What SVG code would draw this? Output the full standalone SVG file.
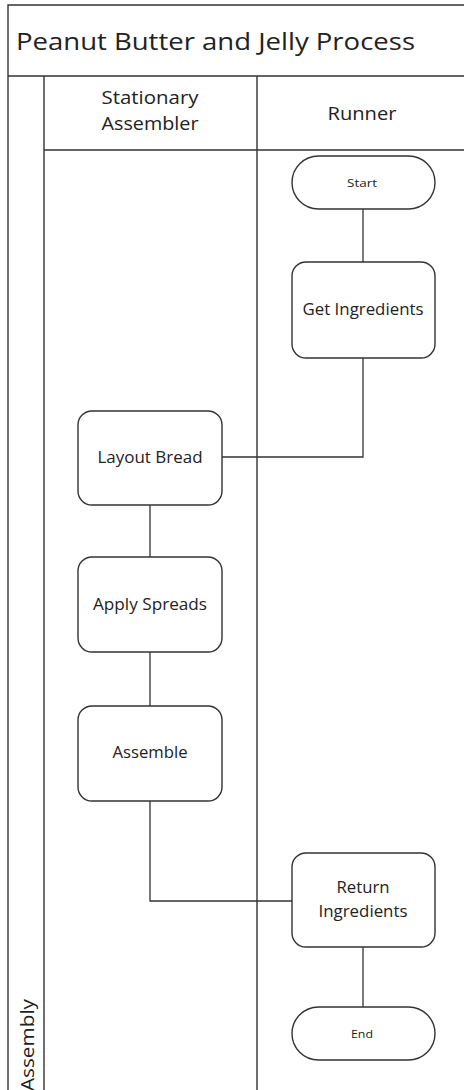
<svg xmlns="http://www.w3.org/2000/svg" width="464" height="1090" viewBox="0 0 464 1090">
<style>
.frame{fill:none;stroke:#333;stroke-width:1.4}
.node{fill:#fff;stroke:#333;stroke-width:1.4}
.conn{fill:none;stroke:#333;stroke-width:1.3}
text{font-family:"Open Sans","Noto Sans","Liberation Sans",sans-serif;fill:#222;text-anchor:middle}
.t{font-size:16px}
.s{font-size:11px}
.h{font-size:18.5px}
</style>
<rect width="464" height="1090" fill="#fff"/>
<g id="pool">
<path class="frame" d="M8,1090 V5 H466 M8,76 H466 M44,76 V1090 M257,76 V1090 M44,150 H466"/>
<text x="16" y="50" style="font-size:24px;text-anchor:start" textLength="399" lengthAdjust="spacingAndGlyphs">Peanut Butter and Jelly Process</text>
<text x="34" y="1091" style="font-size:18px;text-anchor:start" textLength="92" lengthAdjust="spacingAndGlyphs" transform="rotate(-90 34 1091)">Assembly</text>
</g>
<g id="lane-stationary">
<text x="150" y="104" class="h" textLength="97" lengthAdjust="spacingAndGlyphs">Stationary</text>
<text x="150" y="130" class="h" textLength="97" lengthAdjust="spacingAndGlyphs">Assembler</text>
</g>
<g id="lane-runner">
<text x="362" y="120" class="h" textLength="69" lengthAdjust="spacingAndGlyphs">Runner</text>
</g>
<g id="connectors">
<path class="conn" d="M363,209 V262"/>
<path class="conn" d="M363,358 V457 H222"/>
<path class="conn" d="M150,505 V557"/>
<path class="conn" d="M150,652 V706"/>
<path class="conn" d="M150,801 V901 H292"/>
<path class="conn" d="M363,947 V1007"/>
</g>
<g id="start">
<rect class="node" x="292" y="156" width="143" height="53" rx="26.5"/>
<text x="362" y="187" class="s" textLength="30" lengthAdjust="spacingAndGlyphs">Start</text>
</g>
<g id="get-ingredients">
<rect class="node" x="292" y="262" width="143" height="96" rx="14"/>
<text x="363" y="315" class="t" textLength="121" lengthAdjust="spacingAndGlyphs">Get Ingredients</text>
</g>
<g id="layout-bread">
<rect class="node" x="78" y="411" width="144" height="94" rx="14"/>
<text x="150" y="463" class="t" textLength="105" lengthAdjust="spacingAndGlyphs">Layout Bread</text>
</g>
<g id="apply-spreads">
<rect class="node" x="78" y="557" width="144" height="95" rx="14"/>
<text x="150" y="610" class="t" textLength="114" lengthAdjust="spacingAndGlyphs">Apply Spreads</text>
</g>
<g id="assemble">
<rect class="node" x="78" y="706" width="144" height="95" rx="14"/>
<text x="150" y="758" class="t" textLength="75" lengthAdjust="spacingAndGlyphs">Assemble</text>
</g>
<g id="return-ingredients">
<rect class="node" x="292" y="853" width="143" height="94" rx="14"/>
<text x="363" y="893" class="t" textLength="53" lengthAdjust="spacingAndGlyphs">Return</text>
<text x="363" y="917" class="t" textLength="89" lengthAdjust="spacingAndGlyphs">Ingredients</text>
</g>
<g id="end">
<rect class="node" x="292" y="1007" width="143" height="53" rx="26.5"/>
<text x="362" y="1038" class="s" textLength="22" lengthAdjust="spacingAndGlyphs">End</text>
</g>
</svg>
